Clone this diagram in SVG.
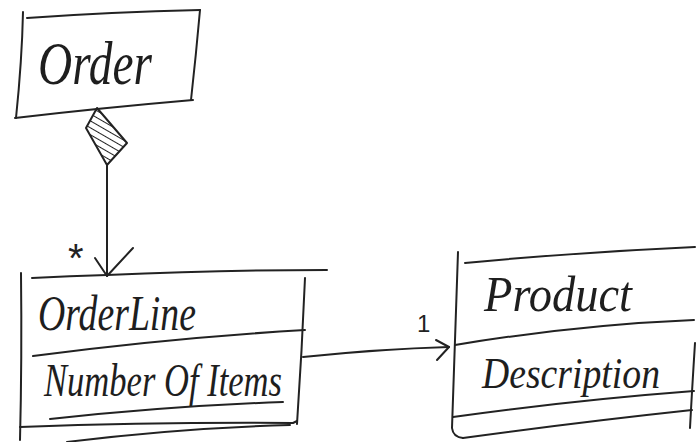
<svg xmlns="http://www.w3.org/2000/svg" width="696" height="442" viewBox="0 0 696 442">
  <style>
    .ink { fill: none; stroke: #222; stroke-width: 2; stroke-linecap: round; stroke-linejoin: round; }
    .hand { font-family: "Liberation Serif", "DejaVu Serif", serif; font-style: italic; fill: #1e1e1e; }
    .big { font-size: 62px; }
    .name { font-size: 50px; }
    .attr { font-size: 46px; }
    .mult { font-family: "Liberation Sans", sans-serif; fill: #222; }
  </style>
  <defs>
    <pattern id="hatch" patternUnits="userSpaceOnUse" width="6" height="6" patternTransform="rotate(-60)">
      <line x1="0" y1="0" x2="0" y2="6" stroke="#222" stroke-width="2"/>
    </pattern>
  </defs>
  <rect width="696" height="442" fill="#fff"/>

  <!-- Order class -->
  <g id="order">
    <path class="ink" d="M23 12 Q22 60 16 118"/>
    <path class="ink" d="M27 18 Q110 12 200 10"/>
    <path class="ink" d="M200 10 Q196 55 191 100"/>
    <path class="ink" d="M15 118 Q100 108 193 100"/>
    <text class="hand big" x="38" y="84" textLength="114" lengthAdjust="spacingAndGlyphs">Order</text>
  </g>

  <!-- OrderLine class -->
  <g id="orderline">
    <path class="ink" d="M21 273 Q22 360 20 440"/>
    <path class="ink" d="M32 278 Q70 276 107 275 Q220 270 327 270"/>
    <path class="ink" d="M305 278 Q302 350 297 424"/>
    <path class="ink" d="M33 356 Q170 338 305 330"/>
    <path class="ink" d="M50 419 Q170 406 283 402"/>
    <path class="ink" d="M20 427 Q160 422 293 423 L297 421"/>
    <path class="ink" d="M67 442 Q180 428 290 425"/>
    <text class="hand name" x="38" y="330" textLength="158" lengthAdjust="spacingAndGlyphs">OrderLine</text>
    <text class="hand attr" x="44" y="396" textLength="238" lengthAdjust="spacingAndGlyphs">Number Of Items</text>
  </g>

  <!-- Product class -->
  <g id="product">
    <path class="ink" d="M458 252 Q455 340 452 428 Q453 437 463 438"/>
    <path class="ink" d="M465 263 Q580 252 695 247"/>
    <path class="ink" d="M455 345 Q575 325 694 320"/>
    <path class="ink" d="M453 417 Q575 400 694 391"/>
    <path class="ink" d="M463 438 Q580 422 692 410"/>
    <path class="ink" d="M695 343 Q692 390 690 428"/>
    <text class="hand name" x="484" y="311" textLength="148" lengthAdjust="spacingAndGlyphs">Product</text>
    <text class="hand" x="482" y="388" font-size="44" textLength="178" lengthAdjust="spacingAndGlyphs">Description</text>
  </g>

  <!-- Connectors -->
  <g id="connectors">
    <!-- composition: Order to OrderLine -->
    <polygon points="97,108 127,143 107,165 86,128" fill="url(#hatch)" stroke="#222" stroke-width="2" stroke-linejoin="round"/>
    <path class="ink" d="M107 165 Q107 220 107 276"/>
    <path class="ink" d="M95 258 L107 276 L133 248"/>
    <text class="mult" x="68" y="272" font-size="40">*</text>
    <!-- association: OrderLine to Product -->
    <path class="ink" d="M303 357 Q380 349 449 347"/>
    <path class="ink" d="M436 340 L449 347 L437 360"/>
    <text class="mult" x="417" y="332" font-size="24" font-weight="300">1</text>
  </g>
</svg>
